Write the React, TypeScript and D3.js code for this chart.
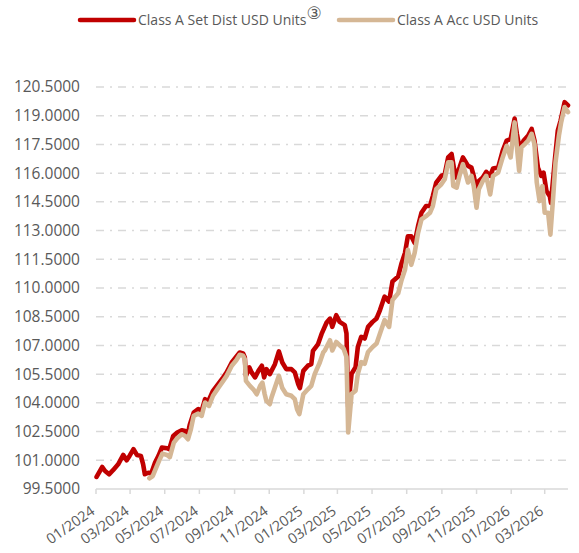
import React from "react";
import * as d3 from "d3";

const seriesNames = ["Class A Set Dist USD Units", "Class A Acc USD Units"];
const seriesColors = ["#C00000", "#D5B795"];

const yTicks = [99.5, 101, 102.5, 104, 105.5, 107, 108.5, 110, 111.5, 113, 114.5, 116, 117.5, 119, 120.5];
const xTickDates = [
  "2024-01-01", "2024-03-01", "2024-05-01", "2024-07-01", "2024-09-01", "2024-11-01",
  "2025-01-01", "2025-03-01", "2025-05-01", "2025-07-01", "2025-09-01", "2025-11-01",
  "2026-01-01", "2026-03-01",
];

const distDates = [
  "2024-01-02","2024-01-12","2024-01-17","2024-01-24","2024-01-31","2024-02-09","2024-02-18","2024-02-24","2024-02-29","2024-03-07",
  "2024-03-13","2024-03-20","2024-03-24","2024-03-27","2024-04-02","2024-04-07","2024-04-14","2024-04-20","2024-04-26","2024-05-05",
  "2024-05-09","2024-05-16","2024-05-23","2024-05-31","2024-06-06","2024-06-10","2024-06-14","2024-06-21","2024-06-29","2024-07-05",
  "2024-07-11","2024-07-17","2024-07-25","2024-08-03","2024-08-12","2024-08-18","2024-08-27","2024-09-04","2024-09-10","2024-09-16",
  "2024-09-19","2024-09-21","2024-09-27","2024-10-01","2024-10-07","2024-10-13","2024-10-19","2024-10-23","2024-10-27","2024-11-02",
  "2024-11-11","2024-11-18","2024-11-24","2024-12-01","2024-12-10","2024-12-16","2024-12-22","2024-12-25","2024-12-31","2025-01-08",
  "2025-01-14","2025-01-17","2025-01-26","2025-02-01","2025-02-10","2025-02-16","2025-02-20","2025-02-27","2025-03-05","2025-03-14",
  "2025-03-17","2025-03-20","2025-03-26","2025-04-02","2025-04-06","2025-04-12","2025-04-18","2025-04-24","2025-05-02","2025-05-09",
  "2025-05-15","2025-05-23","2025-05-31","2025-06-06","2025-06-16","2025-06-22","2025-06-28","2025-07-03","2025-07-09","2025-07-15",
  "2025-07-21","2025-07-27","2025-08-04","2025-08-11","2025-08-16","2025-08-22","2025-08-31","2025-09-06","2025-09-12","2025-09-18",
  "2025-09-25","2025-10-02","2025-10-08","2025-10-17","2025-10-23","2025-10-27","2025-11-01","2025-11-05","2025-11-12","2025-11-18",
  "2025-11-25","2025-11-30","2025-12-09","2025-12-17","2025-12-24","2025-12-31","2026-01-07","2026-01-11","2026-01-16","2026-01-23",
  "2026-01-31","2026-02-06","2026-02-11","2026-02-17","2026-02-23","2026-02-27","2026-03-04","2026-03-10","2026-03-12","2026-03-19",
  "2026-03-24","2026-03-29","2026-04-05","2026-04-11",
];
const distValues = [
  100.13,100.65,100.44,100.27,100.48,100.79,101.28,101.0,101.23,101.58,
  101.28,101.23,100.79,100.27,100.35,100.3,100.88,101.23,101.66,101.63,
  101.58,102.27,102.45,102.57,102.53,102.27,102.85,103.49,103.67,103.58,
  104.19,104.1,104.63,104.98,105.33,105.59,106.11,106.41,106.63,106.58,
  106.37,105.41,105.85,105.59,105.33,105.67,105.94,105.33,105.76,105.5,
  106.02,106.69,106.11,105.76,105.76,105.59,104.98,104.77,105.67,105.94,
  106.02,106.72,107.07,107.59,108.2,108.4,107.97,108.58,108.23,108.06,
  107.62,103.8,105.52,105.87,106.92,107.45,107.36,107.97,108.23,108.41,
  108.85,109.55,109.29,110.34,110.6,111.3,111.83,112.7,112.7,112.35,
  113.23,113.93,114.28,114.28,114.8,115.51,115.86,115.94,116.82,117.0,
  115.77,116.29,116.82,116.38,116.29,115.86,115.16,115.59,115.77,116.07,
  115.86,116.24,116.29,117.17,117.7,117.78,118.85,118.05,117.26,117.7,
  117.96,118.31,117.7,116.29,115.86,116.03,115.07,114.8,114.45,116.73,
  118.22,118.75,119.71,119.54,
];

const accDates = [
  "2024-04-04","2024-04-10","2024-04-16","2024-04-21","2024-04-27","2024-05-05","2024-05-10","2024-05-17","2024-05-23","2024-05-31",
  "2024-06-06","2024-06-11","2024-06-16","2024-06-21","2024-06-29","2024-07-05","2024-07-11","2024-07-18","2024-07-25","2024-08-03",
  "2024-08-12","2024-08-18","2024-08-27","2024-09-04","2024-09-10","2024-09-16","2024-09-19","2024-09-21","2024-09-28","2024-10-04",
  "2024-10-10","2024-10-16","2024-10-20","2024-10-24","2024-10-27","2024-11-02","2024-11-05","2024-11-11","2024-11-18","2024-11-24",
  "2024-12-01","2024-12-10","2024-12-16","2024-12-20","2024-12-24","2024-12-31","2025-01-08","2025-01-14","2025-01-20","2025-01-29",
  "2025-02-04","2025-02-07","2025-02-16","2025-02-20","2025-02-27","2025-03-05","2025-03-12","2025-03-17","2025-03-20","2025-03-26",
  "2025-04-02","2025-04-06","2025-04-12","2025-04-18","2025-04-24","2025-05-02","2025-05-09","2025-05-15","2025-05-23","2025-05-31",
  "2025-06-06","2025-06-16","2025-06-22","2025-06-28","2025-07-03","2025-07-09","2025-07-15","2025-07-21","2025-07-27","2025-08-04",
  "2025-08-11","2025-08-16","2025-08-22","2025-08-31","2025-09-06","2025-09-12","2025-09-18","2025-09-21","2025-09-27","2025-10-02",
  "2025-10-08","2025-10-17","2025-10-23","2025-10-27","2025-11-01","2025-11-05","2025-11-12","2025-11-18","2025-11-25","2025-11-30",
  "2025-12-09","2025-12-17","2025-12-24","2025-12-31","2026-01-07","2026-01-15","2026-01-19","2026-01-25","2026-01-31","2026-02-06",
  "2026-02-11","2026-02-15","2026-02-20","2026-02-25","2026-03-01","2026-03-07","2026-03-11","2026-03-16","2026-03-20","2026-03-26",
  "2026-03-30","2026-04-05","2026-04-11",
];
const accValues = [
  100.06,100.18,100.62,100.97,101.35,101.28,101.17,101.92,102.15,102.36,
  102.27,102.1,102.62,103.32,103.44,103.32,104.02,103.84,104.37,104.77,
  105.15,105.41,105.94,106.23,106.51,106.46,106.28,105.15,104.89,104.71,
  104.45,104.89,105.06,104.45,104.1,103.93,104.28,104.8,105.41,104.77,
  104.45,104.37,104.19,103.67,103.41,104.45,104.71,104.89,105.5,106.11,
  106.63,106.74,107.27,106.74,107.18,107.01,106.83,106.39,102.45,104.47,
  104.64,105.52,106.13,106.04,106.66,106.92,107.1,107.62,108.32,107.97,
  109.37,109.72,110.42,110.95,112.0,111.21,111.83,112.88,113.58,113.75,
  113.93,114.28,115.16,115.42,115.68,116.56,116.56,115.33,115.24,115.86,
  116.47,115.51,115.86,115.33,114.19,115.16,115.59,115.86,114.89,115.86,
  116.03,116.82,117.43,116.82,118.65,116.12,117.35,117.52,117.7,118.05,
  117.52,115.51,114.54,115.33,113.93,113.93,112.79,114.8,116.56,117.96,
  118.66,119.45,119.19,
];

const parse = d3.timeParse("%Y-%m-%d");
const fmt = d3.timeFormat("%m/%Y");

export default function App() {
  const W = 579, H = 553;
  const left = 96, right = 568, top = 87, bottom = 489;
  const x = d3.scaleTime().domain([parse("2024-01-01")!, parse("2026-04-11")!]).range([left, right]);
  const y = d3.scaleLinear().domain([99.5, 120.5]).range([bottom, top]);
  const line = d3.line<[Date, number]>().x(d => x(d[0])).y(d => y(d[1]));
  const dist: [Date, number][] = distDates.map((d, i) => [parse(d)!, distValues[i]]);
  const acc: [Date, number][] = accDates.map((d, i) => [parse(d)!, accValues[i]]);
  const font = "'Open Sans', 'Noto Sans', sans-serif";
  const grey = "#595959";

  return (
    <svg width={W} height={H} style={{ position: "absolute", left: 0, top: 0, background: "#fff" }} fontFamily={font}>
      {/* legend */}
      <line x1={80} x2={134} y1={20} y2={20} stroke={seriesColors[0]} strokeWidth={4.5} strokeLinecap="round" />
      <text x={138} y={25} fontSize={14} fill={grey}>
        {seriesNames[0]}
        <tspan fontSize={17} dx={0} dy={-6} fontFamily="'DejaVu Sans', sans-serif">③</tspan>
      </text>
      <line x1={339} x2={393} y1={20} y2={20} stroke={seriesColors[1]} strokeWidth={4.5} strokeLinecap="round" />
      <text x={397} y={25} fontSize={14} fill={grey}>{seriesNames[1]}</text>

      {/* grid */}
      {yTicks.slice(1).map(t => (
        <line key={t} x1={left} x2={right} y1={y(t)} y2={y(t)} stroke="#D9D9D9" strokeWidth={1.5} strokeDasharray="8,6,2,6" />
      ))}
      {yTicks.map(t => (
        <text key={"l" + t} x={80} y={y(t)} dy="0.35em" textAnchor="end" fontSize={15.5} fill={grey}>{t.toFixed(4)}</text>
      ))}

      {/* x axis */}
      <line x1={left} x2={right} y1={bottom} y2={bottom} stroke="#D9D9D9" strokeWidth={1.5} />
      {xTickDates.map(s => {
        const d = parse(s)!;
        const px = x(d);
        return (
          <g key={s}>
            <line x1={px} x2={px} y1={bottom} y2={bottom + 5} stroke="#D9D9D9" strokeWidth={1.5} />
            <text transform={`translate(${px - 3},${bottom + 20}) rotate(-35)`} textAnchor="end" dy="0.35em" fontSize={14.5} fill={grey}>{fmt(d)}</text>
          </g>
        );
      })}

      {/* series */}
      <path d={line(dist) || ""} fill="none" stroke={seriesColors[0]} strokeWidth={4.6} strokeLinejoin="round" strokeLinecap="round" />
      <path d={line(acc) || ""} fill="none" stroke={seriesColors[1]} strokeWidth={4.6} strokeLinejoin="round" strokeLinecap="round" />
    </svg>
  );
}
